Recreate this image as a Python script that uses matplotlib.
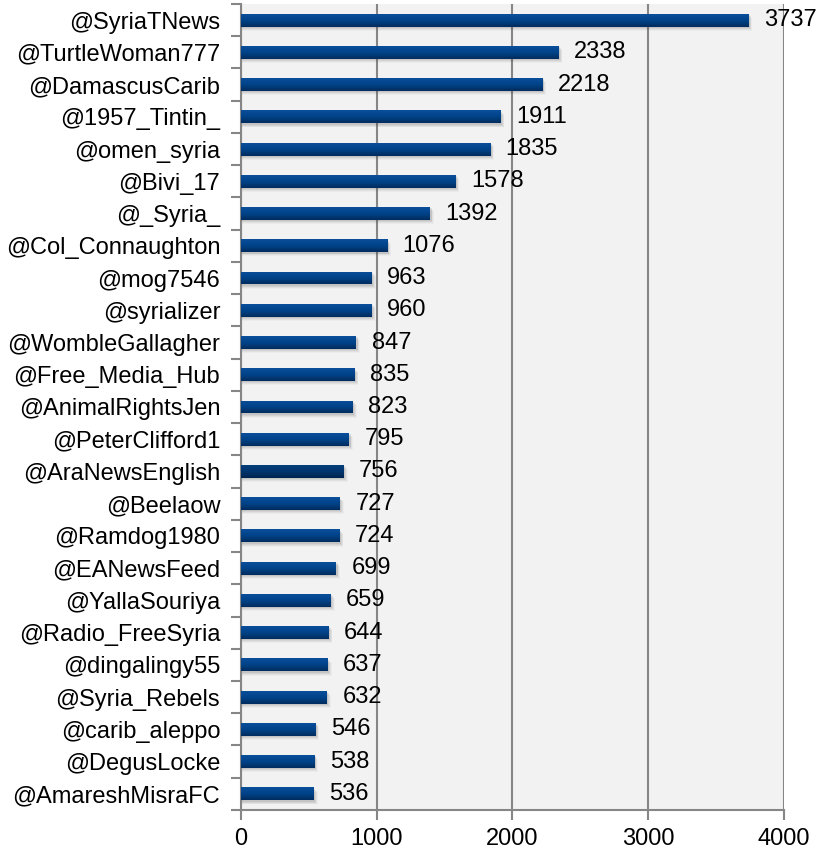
import numpy as np
import matplotlib.pyplot as plt
from matplotlib.colors import LinearSegmentedColormap
from matplotlib.patches import Rectangle

plt.rcParams['font.family'] = ['Liberation Sans', 'DejaVu Sans']

accounts = ['@SyriaTNews', '@TurtleWoman777', '@DamascusCarib', '@1957_Tintin_',
            '@omen_syria', '@Bivi_17', '@_Syria_', '@Col_Connaughton', '@mog7546',
            '@syrializer', '@WombleGallagher', '@Free_Media_Hub', '@AnimalRightsJen',
            '@PeterClifford1', '@AraNewsEnglish', '@Beelaow', '@Ramdog1980',
            '@EANewsFeed', '@YallaSouriya', '@Radio_FreeSyria', '@dingalingy55',
            '@Syria_Rebels', '@carib_aleppo', '@DegusLocke', '@AmareshMisraFC']
counts = [3737, 2338, 2218, 1911, 1835, 1578, 1392, 1076, 963, 960, 847, 835, 823,
          795, 756, 727, 724, 699, 659, 644, 637, 632, 546, 538, 536]
x_ticks = [0, 1000, 2000, 3000, 4000]

n = len(accounts)
ypos = np.arange(n)[::-1]
bar_h = 0.4

fig = plt.figure(figsize=(8.17, 8.5), dpi=100)
ax = fig.add_axes([0.295, 0.0471, 0.6645, 0.9482])
ax.set_facecolor('#F2F2F2')

grad = LinearSegmentedColormap.from_list('bar', ['#0B4F9C', '#004388', '#002C5E'])
grad_dark = LinearSegmentedColormap.from_list('bar2', ['#063E7A', '#00356E', '#00244D'])
img = np.linspace(0, 1, 64).reshape(-1, 1)

for name, v, y in zip(accounts, counts, ypos):
    # soft shadow under each bar
    for k, a in enumerate([0.10, 0.08, 0.06, 0.04]):
        d = 0.04 + k * 0.03
        ax.add_patch(Rectangle((0, y - bar_h / 2 - d), v + 12 + k * 6, bar_h,
                               facecolor='#404040', alpha=a, edgecolor='none', zorder=2))
    rect = Rectangle((0, y - bar_h / 2), v, bar_h, facecolor='#00418A',
                     edgecolor='none', zorder=3)
    ax.add_patch(rect)
    cmap = grad_dark if name == '@AraNewsEnglish' else grad
    im = ax.imshow(img, cmap=cmap, aspect='auto', zorder=4,
                   extent=(0, v, y - bar_h / 2, y + bar_h / 2), origin='upper')
    im.set_clip_path(rect)
    ax.text(v + 115, y, str(v), va='center', ha='left', fontsize=17, zorder=5,
            clip_on=False)

ax.set_xlim(0, 4000)
ax.set_ylim(-0.5, n - 0.5)

ax.set_yticks(ypos)
ax.set_yticklabels(accounts, fontsize=17)
ax.set_yticks(np.arange(n + 1) - 0.5, minor=True)
ax.tick_params(axis='y', which='major', length=0, pad=15)
ax.tick_params(axis='y', which='minor', length=7, width=1.5, color='#868686',
               direction='out')

ax.set_xticks(x_ticks)
ax.set_xticklabels([str(t) for t in x_ticks], fontsize=17)
ax.tick_params(axis='x', length=7, width=1.5, color='#868686', direction='out', pad=6)

ax.grid(axis='x', color='#868686', linewidth=1.5, zorder=1)
ax.set_axisbelow(True)
for s in ['top', 'right']:
    ax.spines[s].set_visible(False)
for s in ['left', 'bottom']:
    ax.spines[s].set_color('#868686')
    ax.spines[s].set_linewidth(1.5)

plt.savefig('out.png', dpi=100)
